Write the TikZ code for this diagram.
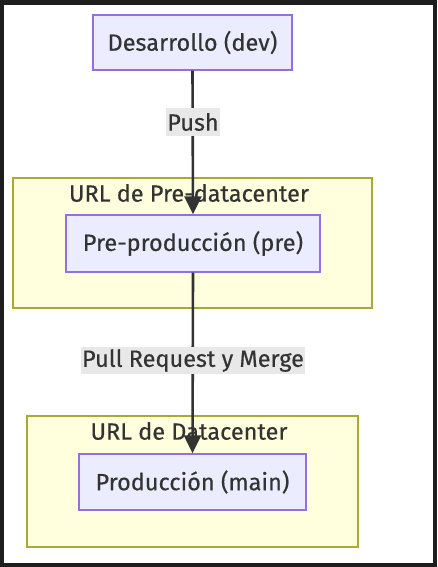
\documentclass[tikz,border=0pt]{standalone}
\usepackage{fontspec}
\setmainfont{Fira Sans}[FakeBold=0.4]
\usetikzlibrary{arrows.meta}
\definecolor{frame}{HTML}{1E1E1E}
\definecolor{nodefill}{HTML}{ECECFF}
\definecolor{nodedraw}{HTML}{9370DB}
\definecolor{clfill}{HTML}{FFFFDE}
\definecolor{cldraw}{HTML}{AAAA33}
\definecolor{txt}{HTML}{333333}
\definecolor{lblbg}{HTML}{E8E8E8}
\tikzset{
  proc/.style={draw=nodedraw, fill=nodefill, line width=1.3pt, text=txt, font=\fontsize{23.5}{26}\selectfont, inner sep=0pt},
  cluster/.style={draw=cldraw, fill=clfill, line width=1.3pt},
  cltitle/.style={text=txt, font=\fontsize{23.5}{26}\selectfont, inner sep=0pt},
  elabel/.style={fill=lblbg, text=txt, font=\fontsize{23.5}{26}\selectfont, inner xsep=1pt, inner ysep=0pt, minimum height=27pt},
  flow/.style={draw=txt, line width=2.6pt, -{Triangle[length=18pt,width=17pt]}}
}
\begin{document}
\begin{tikzpicture}[x=1pt,y=-1pt]
\useasboundingbox (0,0) rectangle (437,567);
\fill[frame] (0,0) rectangle (437,567);
\fill[white] (4,5) rectangle (433,563);
% clusters
\draw[cluster] (13,178) rectangle (372,308);
\node[cltitle] (t1) at (189,193) {URL de Pre-datacenter};
\draw[cluster] (27,416) rectangle (358,547);
\node[cltitle] (t2) at (189,431) {URL de Datacenter};
% nodes
\node[proc, minimum width=199pt, minimum height=55pt] (dev) at (192.5,42.5) {Desarrollo (dev)};
\node[proc, minimum width=254pt, minimum height=57pt] (pre) at (193,243.5) {Pre-producción (pre)};
\node[proc, minimum width=227pt, minimum height=56pt] (main) at (192.5,482) {Producción (main)};
% edges
\draw[flow] (dev.south) -- (pre.north);
\draw[flow] (pre.south) -- (main.north);
\node[elabel] (l1) at (193,122) {Push};
\node[elabel] (l2) at (193,360.5) {Pull Request y Merge};
\end{tikzpicture}
\end{document}
